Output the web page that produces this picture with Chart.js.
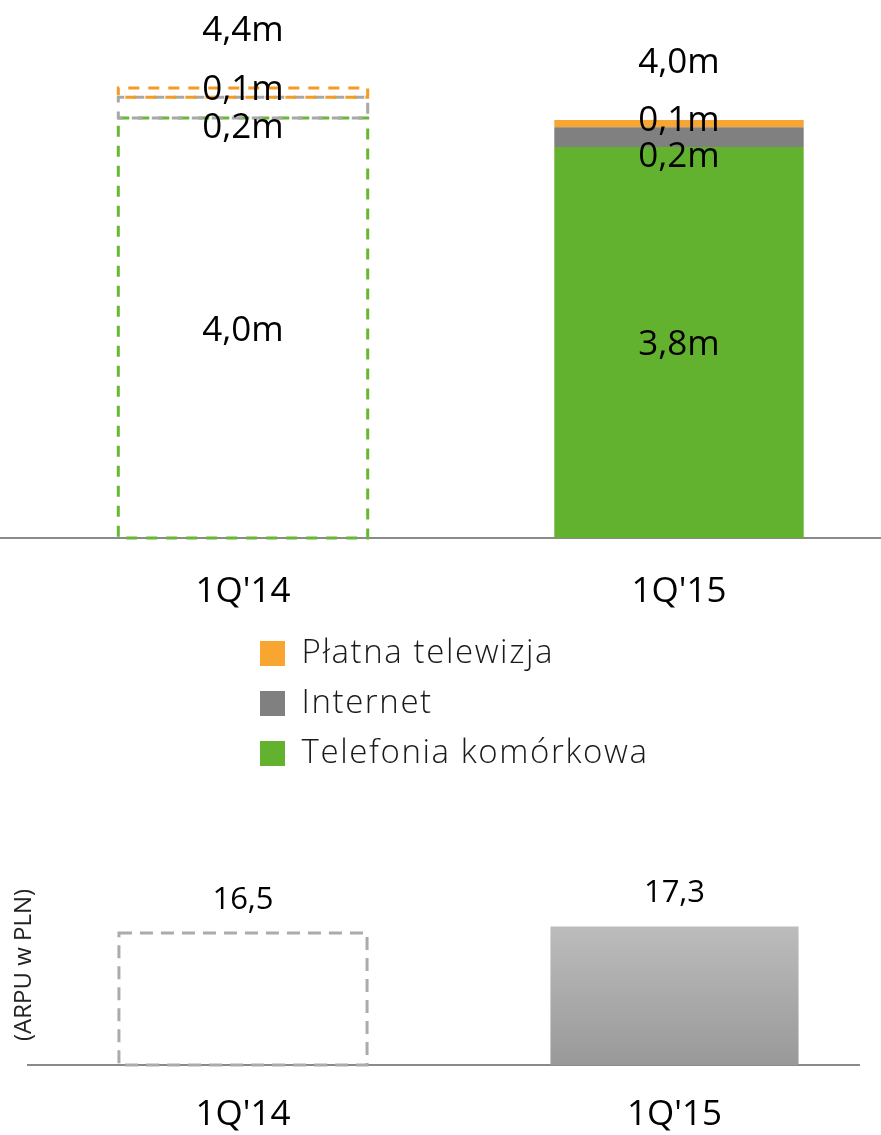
<!DOCTYPE html>
<html><head><meta charset="utf-8">
<script src="https://cdn.jsdelivr.net/npm/chart.js@4.4.1/dist/chart.umd.min.js"></script>
<style>
html,body{margin:0;padding:0;overflow:hidden;background:#fff;width:881px;height:1135px;}
#wrap{position:relative;width:881px;height:1135px;overflow:hidden;}
canvas{position:absolute;display:block;}
#top{left:0;top:0;}
#leg{left:243px;top:620px;}
#bot{left:0;top:860px;}
</style></head><body><div id="wrap">
<canvas id="top" width="900" height="646"></canvas>
<canvas id="leg" width="900" height="200"></canvas>
<canvas id="bot" width="900" height="305"></canvas>
</div>
<script>
// ---- data ----
const categories = ["1Q'14", "1Q'15"];
const seriesNames = ["Telefonia komórkowa", "Internet", "Płatna telewizja"];
const mobile = [4.06, 3.78];
const internet = [0.20, 0.19];
const payTv = [0.09, 0.07];
const mobileLabels = ["4,0m", "3,8m"];
const internetLabels = ["0,2m", "0,2m"];
const payTvLabels = ["0,1m", "0,1m"];
const totalLabels = ["4,4m", "4,0m"];
const arpuCategories = ["1Q'14", "1Q'15"];
const arpu = [16.5, 17.3];
const arpuTitle = "(ARPU w PLN)";

// ---- style ----
const FONT = '"Open Sans", "Noto Sans", sans-serif';
const solidColors = ['#63B22F', '#808080', '#F8A532'];
const dashColors = ['#66B834', '#A8A8A8', '#F59A22'];
const dashedIndex = 0;          // 1Q'14 bars are drawn as dashed outlines
const labelOffsets = [3, 20, -3];
const transparent = 'rgba(0,0,0,0)';

function bgFor(i){
  return categories.map((c, j) => j === dashedIndex ? transparent : solidColors[i]);
}

const valueSets = [mobile, internet, payTv];
const labelSets = [mobileLabels, internetLabels, payTvLabels];

const topDecor = {
  id: 'topDecor',
  beforeDatasetsDraw(chart){
    const ctx = chart.ctx, y0 = chart.scales.y.getPixelForValue(0);
    ctx.save();
    ctx.strokeStyle = '#8a8a8a'; ctx.lineWidth = 2;
    ctx.beginPath(); ctx.moveTo(0, y0); ctx.lineTo(881, y0); ctx.stroke();
    ctx.restore();
  },
  afterDatasetsDraw(chart){
    const ctx = chart.ctx;
    ctx.save();
    chart.data.datasets.forEach((ds, i) => {
      const el = chart.getDatasetMeta(i).data[dashedIndex];
      const p = el.getProps(['x','y','base','width'], true);
      ctx.setLineDash([11, 9]);
      ctx.lineDashOffset = i * 5;
      ctx.strokeStyle = dashColors[i];
      ctx.lineWidth = 3;
      ctx.strokeRect(p.x - p.width/2, p.y, p.width, p.base - p.y);
    });
    ctx.setLineDash([]);
    ctx.fillStyle = '#000';
    ctx.textAlign = 'center'; ctx.textBaseline = 'middle';
    ctx.font = '400 35px ' + FONT;
    chart.data.datasets.forEach((ds, i) => {
      chart.getDatasetMeta(i).data.forEach((el, j) => {
        const p = el.getProps(['x','y','base'], true);
        ctx.fillText(labelSets[i][j], p.x, (p.y + p.base)/2 + labelOffsets[i]);
      });
    });
    const last = chart.getDatasetMeta(chart.data.datasets.length - 1).data;
    last.forEach((el, j) => {
      const p = el.getProps(['x','y'], true);
      ctx.fillText(totalLabels[j], p.x, p.y - 57);
    });
    ctx.restore();
  }
};

new Chart(document.getElementById('top'), {
  type: 'bar',
  data: {
    labels: categories,
    datasets: valueSets.map((v, i) => ({
      label: seriesNames[i], data: v, backgroundColor: bgFor(i), borderWidth: 0,
      barPercentage: 0.572, categoryPercentage: 1
    }))
  },
  options: {
    responsive: false, animation: false,
    layout: { padding: { left: 25, right: 3, top: 0, bottom: 0 } },
    plugins: { legend: { display: false }, tooltip: { enabled: false } },
    scales: {
      x: { stacked: true, grid: { display: false, drawTicks: false }, border: { display: false },
           ticks: { color: '#000', padding: 33, font: { family: FONT, size: 35, weight: 400 } } },
      y: { stacked: true, display: false, min: 0, max: 5.2 }
    }
  },
  plugins: [topDecor]
});

// legend (the library's own legend)
const legendSpacing = {
  id: 'legendSpacing',
  beforeDraw(chart){ if ('letterSpacing' in chart.ctx) chart.ctx.letterSpacing = '1.6px'; },
  beforeLayout(chart){ if ('letterSpacing' in chart.ctx) chart.ctx.letterSpacing = '1.6px'; }
};
new Chart(document.getElementById('leg'), {
  type: 'bar',
  data: {
    labels: [],
    datasets: seriesNames.map((n, i) => ({ label: n, data: [], backgroundColor: solidColors[i], borderWidth: 0 }))
  },
  options: {
    responsive: false, animation: false,
    layout: { padding: 0 },
    scales: { x: { display: false }, y: { display: false } },
    plugins: {
      tooltip: { enabled: false },
      legend: {
        position: 'left', align: 'start', reverse: true,
        labels: { boxWidth: 25, boxHeight: 25, padding: 17, color: '#1a1a1a',
                  font: { family: FONT, size: 33, weight: 300 } }
      }
    }
  },
  plugins: [legendSpacing]
});

// ARPU chart
const botDecor = {
  id: 'botDecor',
  beforeDatasetsDraw(chart){
    const ctx = chart.ctx, y0 = chart.scales.y.getPixelForValue(0);
    ctx.save();
    ctx.strokeStyle = '#8a8a8a'; ctx.lineWidth = 2;
    ctx.beginPath(); ctx.moveTo(27, y0); ctx.lineTo(860, y0); ctx.stroke();
    ctx.restore();
  },
  afterDatasetsDraw(chart){
    const ctx = chart.ctx;
    ctx.save();
    const el = chart.getDatasetMeta(0).data[dashedIndex];
    const p = el.getProps(['x','y','base','width'], true);
    ctx.setLineDash([13, 8]);
    ctx.strokeStyle = '#ABABAB'; ctx.lineWidth = 3;
    ctx.strokeRect(p.x - p.width/2, p.y, p.width, p.base - p.y);
    ctx.setLineDash([]);
    ctx.fillStyle = '#000'; ctx.textAlign = 'center'; ctx.textBaseline = 'middle';
    ctx.font = '400 31px ' + FONT;
    chart.getDatasetMeta(0).data.forEach((e, j) => {
      const q = e.getProps(['x','y'], true);
      ctx.fillText(arpu[j].toFixed(1).replace('.', ','), q.x, q.y - 33);
    });
    ctx.restore();
  }
};

new Chart(document.getElementById('bot'), {
  type: 'bar',
  data: {
    labels: arpuCategories,
    datasets: [{
      label: 'ARPU', data: arpu, borderWidth: 0,
      barPercentage: 0.575, categoryPercentage: 1,
      backgroundColor: (c) => {
        if (c.dataIndex === dashedIndex) return transparent;
        const ys = c.chart.scales.y;
        if (!ys || c.raw === undefined) return '#aaaaaa';
        const t = ys.getPixelForValue(c.raw), b = ys.getPixelForValue(0);
        if (!isFinite(t) || !isFinite(b)) return '#aaaaaa';
        const g = c.chart.ctx.createLinearGradient(0, t, 0, b);
        g.addColorStop(0, '#BCBCBC'); g.addColorStop(1, '#999999');
        return g;
      }
    }]
  },
  options: {
    responsive: false, animation: false,
    layout: { padding: { left: 0, right: 9.75, top: 5, bottom: 0 } },
    plugins: { legend: { display: false }, tooltip: { enabled: false } },
    scales: {
      x: { grid: { display: false, drawTicks: false }, border: { display: false },
           ticks: { color: '#000', padding: 29, font: { family: FONT, size: 35, weight: 400 } } },
      y: { min: 0, max: 25, grid: { display: false, drawTicks: false }, border: { display: false },
           ticks: { display: false },
           title: { display: true, text: arpuTitle, color: '#222',
                    font: { family: FONT, size: 24, weight: 400, lineHeight: 0.1 },
                    padding: { top: 22.6, bottom: 2.25 } } }
    }
  },
  plugins: [botDecor]
});
</script>
</body></html>
